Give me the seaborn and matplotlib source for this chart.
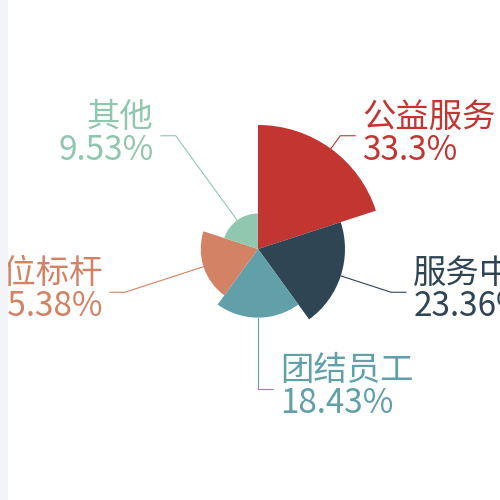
import numpy as np
import matplotlib
matplotlib.use("Agg")
import matplotlib.pyplot as plt
from matplotlib.patches import Wedge
import seaborn as sns

# Data (rose chart, equal angles, radius by value)
names = ["公益服务", "服务中心", "团结员工", "岗位标杆", "其他"]
values = [33.3, 23.36, 18.43, 15.38, 9.53]
colors = ["#c23531", "#2f4554", "#61a0a8", "#d48265", "#91c7ae"]

sns.set_theme(style="white")
plt.rcParams['font.family'] = ['Noto Sans CJK SC', 'DejaVu Sans']

fig = plt.figure(figsize=(5, 5), dpi=100, facecolor="#f3f4f9")
# white panel, pixel coordinates (y up)
ax = fig.add_axes([8 / 500, 0, 492 / 500, 1])
ax.set_xlim(8, 500)
ax.set_ylim(0, 500)
ax.set_facecolor("white")
ax.axis("off")
ax.add_patch(plt.Rectangle((8, 0), 492, 500, facecolor="white", edgecolor="none", zorder=0))

cx, cy = 258, 251
r_max = 124
r_line = 140
palette = sns.color_palette(colors)

n = len(values)
step = 360 / n
for i, (name, v, c) in enumerate(zip(names, values, palette)):
    t2 = 90 - i * step
    t1 = t2 - step
    r = r_max * v / max(values)
    ax.add_patch(Wedge((cx, cy), r, t1, t2, facecolor=c, edgecolor="none", zorder=2))

    mid = np.deg2rad((t1 + t2) / 2)
    p1 = (cx + r * np.cos(mid), cy + r * np.sin(mid))
    p2 = (cx + r_line * np.cos(mid), cy + r_line * np.sin(mid))
    side = 1 if np.cos(mid) >= -1e-9 else -1
    p3 = (p2[0] + side * 15, p2[1])
    ax.plot([p1[0], p2[0], p3[0]], [p1[1], p2[1], p3[1]], color=c, lw=0.8, zorder=1)

    tx = p3[0] + side * 7
    ha = "left" if side > 0 else "right"
    ax.text(tx, p3[1] + 1, name, color=c, fontsize=24, ha=ha, va="bottom", clip_on=True)
    ax.text(tx, p3[1] + 3, f"{v:g}%", color=c, fontsize=24, ha=ha, va="top", clip_on=True)

fig.savefig("out.png", dpi=100, facecolor=fig.get_facecolor())
